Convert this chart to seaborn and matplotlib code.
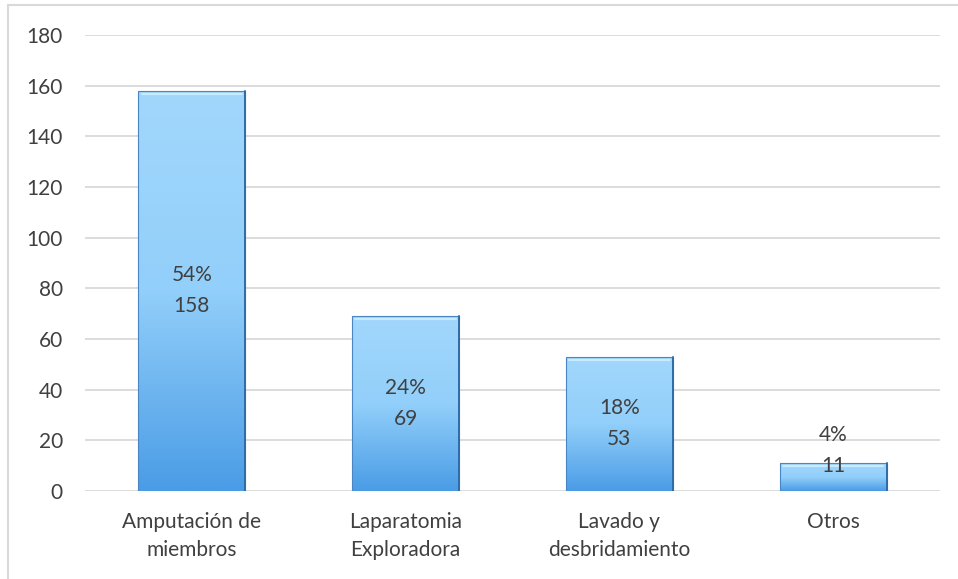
import numpy as np
import pandas as pd
import matplotlib
matplotlib.use("Agg")
import matplotlib.pyplot as plt
import seaborn as sns
from matplotlib.colors import LinearSegmentedColormap
from matplotlib.lines import Line2D

categories = ["Amputación de\nmiembros", "Laparatomia\nExploradora", "Lavado y\ndesbridamiento", "Otros"]
values = [158, 69, 53, 11]
percents = ["54%", "24%", "18%", "4%"]
yticks = [0, 20, 40, 60, 80, 100, 120, 140, 160, 180]

sns.set_theme(style="white")
plt.rcParams["font.family"] = ["Lato", "DejaVu Sans"]
text_color = "#404040"
fs = 15

df = pd.DataFrame({"cat": categories, "val": values})

fig = plt.figure(figsize=(9.58, 5.79), dpi=100)
ax = fig.add_axes([85 / 958, 1 - 491 / 579, (940 - 85) / 958, (491 - 35) / 579])

sns.barplot(data=df, x="cat", y="val", color="#6DB8F2", width=0.5, ax=ax,
            edgecolor="none", saturation=1, zorder=3)

ax.set_ylim(0, 180)
ax.set_xlim(-0.5, len(categories) - 0.5)
ax.set_yticks(yticks)
ax.set_yticklabels([str(t) for t in yticks])
ax.yaxis.grid(True, color="#D9D9D9", linewidth=1.3, zorder=0)
ax.set_axisbelow(True)
for s in ax.spines.values():
    s.set_visible(False)
ax.tick_params(axis="both", length=0, labelsize=fs, colors=text_color)
ax.tick_params(axis="y", pad=16)
ax.tick_params(axis="x", pad=15)
ax.set_xlabel("")
ax.set_ylabel("")
for lbl in ax.get_xticklabels():
    lbl.set_linespacing(1.5)

# gradient fill clipped to bars
cmap = LinearSegmentedColormap.from_list("g", ["#A2D7FC", "#92CFFA", "#4A9CE6"])
grad = np.linspace(0, 1, 256).reshape(-1, 1)
for p in ax.patches:
    x0, y0 = p.get_x(), p.get_y()
    w, h = p.get_width(), p.get_height()
    im = ax.imshow(grad, cmap=cmap, aspect="auto", extent=[x0, x0 + w, y0, y0 + h],
                   origin="upper", zorder=3.5)
    im.set_clip_path(p)
    ax.add_patch(plt.Rectangle((x0, y0), w, h, fill=False, edgecolor="#4A86C4",
                               linewidth=0.8, zorder=4))
    ax.plot([x0 + w, x0 + w], [y0, y0 + h], color="#2F6CA8", linewidth=1.4, zorder=4.2)
    ax.plot([x0 + w * 0.03, x0 + w * 0.97], [y0 + h - 1.2, y0 + h - 1.2],
            color="#C8EBFF", linewidth=1.5, zorder=4.5)
ax.set_xlim(-0.5, len(categories) - 0.5)
ax.set_ylim(0, 180)

for i, (v, pc) in enumerate(zip(values, percents)):
    ymid = max(v / 2, 16)
    ax.text(i, ymid, f"{pc}\n{v}", ha="center", va="center", fontsize=fs,
            color=text_color, linespacing=1.7, zorder=6)

# figure border
fig.add_artist(Line2D([8 / 958, 8 / 958], [0, 1 - 5 / 579], color="#D9D9D9", linewidth=1.5,
                      transform=fig.transFigure))
fig.add_artist(Line2D([8 / 958, 1], [1 - 5 / 579, 1 - 5 / 579], color="#D9D9D9", linewidth=1.5,
                      transform=fig.transFigure))

fig.savefig("out.png", dpi=100)
